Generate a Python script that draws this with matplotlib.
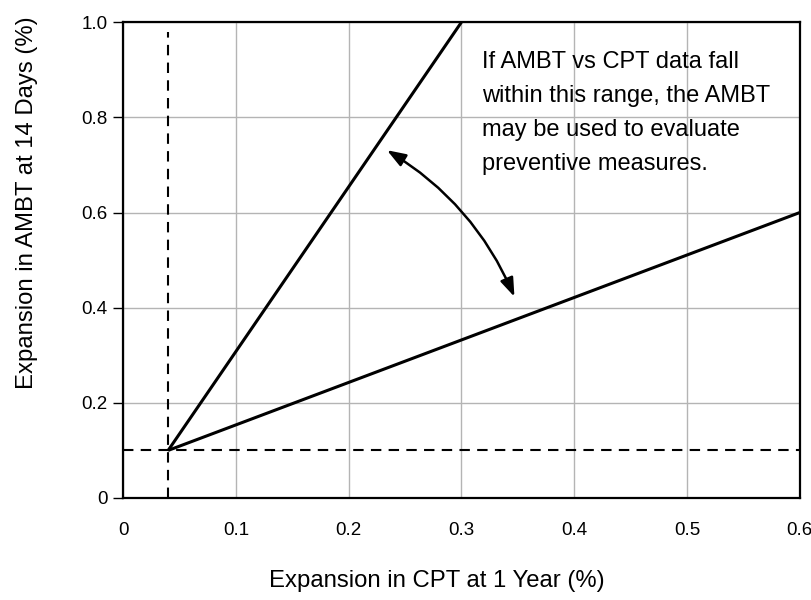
import matplotlib
matplotlib.use("Agg")
import matplotlib.pyplot as plt

plt.rcParams['font.family'] = ['Liberation Sans', 'DejaVu Sans']

# threshold lines (dashed)
cpt_limit = 0.04
ambt_limit = 0.1

# upper and lower boundary lines, both start at the limit corner
upper_x = [0.04, 0.3]
upper_y = [0.1, 1.0]
lower_x = [0.04, 0.6]
lower_y = [0.1, 0.6]

# double arrow ends
arrow_top = (0.234, 0.731)
arrow_bottom = (0.347, 0.423)

note = "If AMBT vs CPT data fall\nwithin this range, the AMBT\nmay be used to evaluate\npreventive measures."

x_ticks = [0, 0.1, 0.2, 0.3, 0.4, 0.5, 0.6]
x_labels = ["0", "0.1", "0.2", "0.3", "0.4", "0.5", "0.6"]
y_ticks = [0, 0.2, 0.4, 0.6, 0.8, 1.0]
y_labels = ["0", "0.2", "0.4", "0.6", "0.8", "1.0"]

fig = plt.figure(figsize=(8.12, 6), dpi=100)
ax = fig.add_axes([0.1515, 0.17, 0.8335, 0.793])

ax.set_xlim(0, 0.6)
ax.set_ylim(0, 1.0)
ax.set_xticks(x_ticks)
ax.set_xticklabels(x_labels)
ax.set_yticks(y_ticks)
ax.set_yticklabels(y_labels)
ax.tick_params(axis='x', length=0, pad=17, labelsize=13.5)
ax.tick_params(axis='y', length=7, width=1, direction='out', pad=4, labelsize=13.5)
ax.grid(True, color='#b4b4b4', lw=1)
ax.set_axisbelow(True)
for s in ax.spines.values():
    s.set_linewidth(1.6)

# dashed limits
ax.plot([cpt_limit, cpt_limit], [0, 0.98], color='black', lw=1.5, ls=(0, (5, 3.5)))
ax.plot([0, 0.6], [ambt_limit, ambt_limit], color='black', lw=1.5, ls=(0, (5, 3.5)))

# boundaries
ax.plot(upper_x, upper_y, color='black', lw=2.2, solid_capstyle='butt')
ax.plot(lower_x, lower_y, color='black', lw=2.2, solid_capstyle='butt')

ax.annotate('', xy=arrow_bottom, xytext=arrow_top,
            arrowprops=dict(arrowstyle='<|-|>,head_length=0.75,head_width=0.27',
                            connectionstyle='arc3,rad=-0.16', color='black',
                            lw=1.8, mutation_scale=15, shrinkA=0, shrinkB=0))

ax.text(0.318, 0.94, note, fontsize=17, va='top', ha='left', linespacing=1.71)

ax.set_xlabel('Expansion in CPT at 1 Year (%)', fontsize=17.2)
ax.set_ylabel('Expansion in AMBT at 14 Days (%)', fontsize=17.2)
ax.xaxis.set_label_coords(0.464, -0.152)
ax.yaxis.set_label_coords(-0.126, 0.62)

fig.savefig('out.png', dpi=100)
